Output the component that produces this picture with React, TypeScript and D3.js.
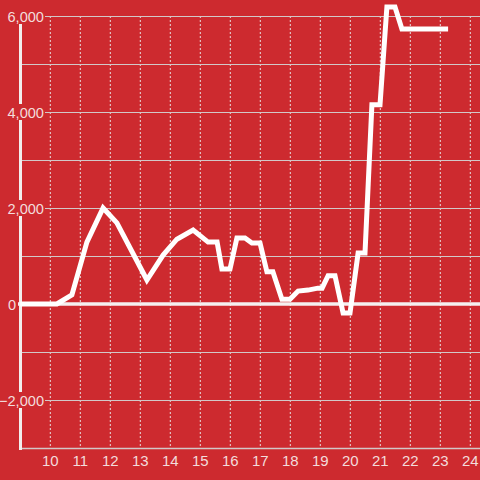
import React from "react";
import * as d3 from "d3";

const hours = [9.0, 10.22, 10.72, 11.22, 11.76, 12.22, 13.22, 13.76, 14.22, 14.76, 15.26, 15.56, 15.72, 15.99, 16.22, 16.49, 16.72, 16.99, 17.22, 17.42, 17.72, 17.99, 18.26, 18.59, 18.92, 19.06, 19.26, 19.49, 19.76, 19.99, 20.26, 20.49, 20.72, 20.99, 21.22, 21.49, 21.72, 23.26];
const values = [0, 0, 190, 1290, 2000, 1690, 500, 1020, 1350, 1540, 1290, 1290, 730, 730, 1375, 1375, 1270, 1270, 670, 670, 100, 100, 270, 290, 330, 330, 590, 590, -190, -190, 1060, 1060, 4150, 4150, 6190, 6190, 5730, 5730];
const xTicks = [10, 11, 12, 13, 14, 15, 16, 17, 18, 19, 20, 21, 22, 23, 24];
const yGrid = [-3000, -2000, -1000, 0, 1000, 2000, 3000, 4000, 5000, 6000];
const yLabels = [-2000, 0, 2000, 4000, 6000];

const BG = "#cd2a2f";
const TXT = "#f3dcdc";

export default function App() {
  const W = 480, H = 480;
  const x = d3.scaleLinear().domain([9, 24]).range([20.3, 470.3]);
  const y = d3.scaleLinear().domain([-3000, 6000]).range([448, 16]);
  const pts: [number, number][] = hours.map((h, i) => [h, values[i]]);
  const line = d3.line<[number, number]>().x(d => x(d[0])).y(d => y(d[1]));
  const fmt = d3.format(",");
  const font = "'Liberation Sans', Arial, sans-serif";
  return (
    <svg width={W} height={H} style={{ position: "absolute", left: 0, top: 0, background: BG }}>
      <rect x={0} y={0} width={W} height={H} fill={BG} />
      {xTicks.map(t => (
        <line key={"vx" + t} x1={x(t)} x2={x(t)} y1={y(6000)} y2={446} stroke="#e6e0e0" strokeWidth={1} strokeDasharray="2,2" />
      ))}
      {yGrid.filter(v => v !== 0 && v !== -3000).map(v => (
        <line key={"hg" + v} x1={21} x2={W} y1={Math.round(y(v)) + 0.5} y2={Math.round(y(v)) + 0.5} stroke="#d2c8c8" strokeWidth={1} />
      ))}
      <line x1={20} x2={W} y1={448.5} y2={448.5} stroke="#d2c8c8" strokeWidth={1.5} />
      <line x1={20.5} x2={20.5} y1={16} y2={450} stroke="#f2eeee" strokeWidth={3} />
      <line x1={18} x2={W} y1={y(0)} y2={y(0)} stroke="#f5f0f0" strokeWidth={3.5} />
      {yLabels.map(v => {
        const gy = y(v);
        const isZero = v === 0;
        const xe = isZero ? 16 : 44;
        const bw = isZero ? 11 : 43;
        return (
          <g key={"yl" + v}>
            <rect x={xe - bw} y={gy - 8} width={bw + 1} height={16} fill={BG} />
            <text x={xe} y={gy + 6} textAnchor="end" fontFamily={font} fontSize={14.6} fill={TXT}>{fmt(v)}</text>
          </g>
        );
      })}
      {xTicks.map(t => (
        <text key={"xl" + t} x={x(t)} y={466} textAnchor="middle" fontFamily={font} fontSize={15} fill={TXT}>{t}</text>
      ))}
      <path d={line(pts) || ""} fill="none" stroke="#ffffff" strokeWidth={5} strokeLinejoin="miter" />
    </svg>
  );
}
